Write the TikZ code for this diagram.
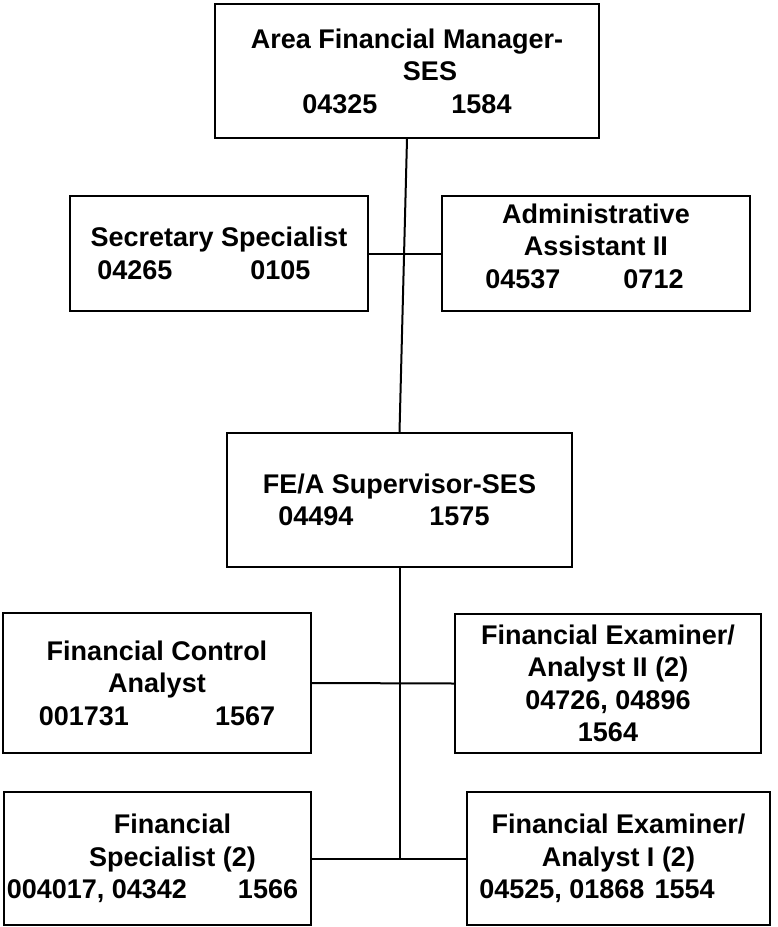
\documentclass[tikz,border=0pt]{standalone}
\usepackage{fontspec}
\setmainfont{Liberation Sans}
\usetikzlibrary{positioning}

\begin{document}
\begin{tikzpicture}[x=1pt,y=-1pt,line width=2pt,
 post/.style={draw,rectangle,align=center,inner sep=0pt,
  font=\bfseries\fontsize{27}{32.5}\selectfont}]
 \useasboundingbox (0,0) rectangle (777,927);

 \node[post,minimum width=384pt,minimum height=134pt] (afm) at (407,71)
  {Area Financial Manager-\\\hspace*{46pt}SES\\04325\hspace{74pt}1584};
 \node[post,minimum width=298pt,minimum height=115pt] (sec) at (219,253.5)
  {Secretary Specialist\\04265\hspace{78pt}0105\hspace*{30pt}};
 \node[post,minimum width=308pt,minimum height=115pt] (adm) at (596,253.5)
  {Administrative\\Assistant II\\\hspace*{-23pt}04537\hspace{63pt}0712\\[-17pt]\mbox{}};
 \node[post,minimum width=345pt,minimum height=134pt] (sup) at (399.5,500)
  {FE/A Supervisor-SES\\04494\hspace{76pt}1575\hspace*{31pt}};

 \node[post,minimum width=308pt,minimum height=140pt] (fca) at (157,683)
  {Financial Control\\Analyst\\001731\hspace{86pt}1567};
 \node[post,minimum width=306pt,minimum height=139pt] (fe2) at (608,683.5)
  {Financial Examiner/\\Analyst II (2)\\04726, 04896\\1564};
 \node[post,minimum width=307pt,minimum height=133pt] (fsp) at (157.5,858.5)
  {\hspace*{30pt}Financial\\\hspace*{30pt}Specialist (2)\\004017, 04342\hspace{51pt}1566\hspace*{10pt}};
 \node[post,minimum width=303pt,minimum height=133pt] (fe1) at (618.5,858.5)
  {Financial Examiner/\\Analyst I (2)\hspace*{10pt}\\04525, 01868\hspace{10pt}1554\hspace*{43pt}};

 % reporting lines
 \coordinate (hub) at (sup.south |- fsp.east);
 \draw (afm.south) -- (sup.north);
 \draw (sec.east) -- (adm.west);
 \draw (sup.south) -- (hub);
 \draw (fca.east) -- (fe2.west);
 \draw (fsp.east) -- (fe1.west);
\end{tikzpicture}
\end{document}
